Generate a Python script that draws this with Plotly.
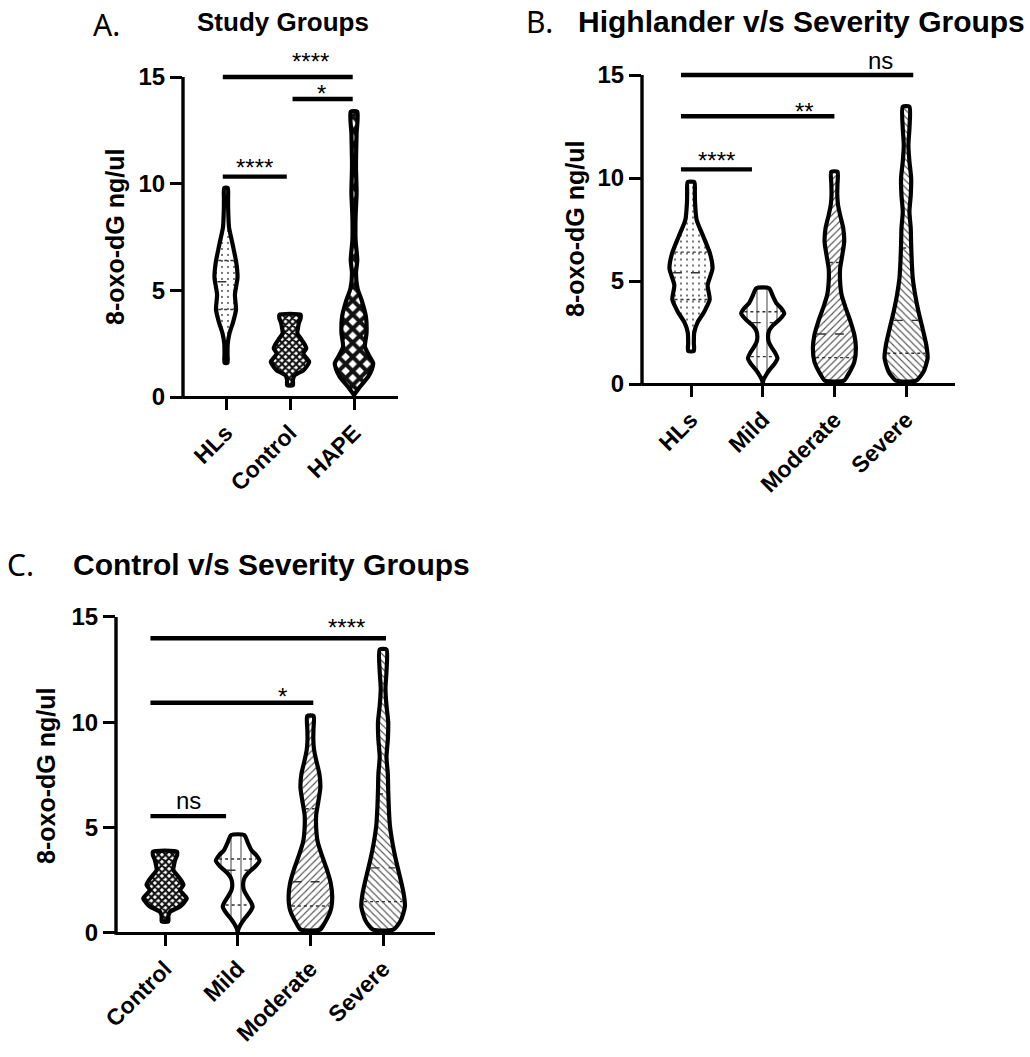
import numpy as np
import plotly.graph_objects as go

W, H = 1030, 1057

# violin outlines: value level and relative half-width
hls_y = [1.6, 2.0, 2.5, 3.0, 3.5, 4.1, 4.8, 5.6, 6.3, 7.15, 7.96, 8.8, 9.3, 9.8]
hls_w = [2.8, 2.8, 3.2, 6.6, 13.0, 18.5, 16.5, 21.3, 19.0, 12.3, 5.6, 4.0, 3.8, 3.3]

ctrl_y = [0.55, 0.8, 1.01, 1.25, 1.45, 1.65, 1.85, 2.04, 2.28, 2.5, 2.67, 2.99, 3.25, 3.46, 3.7, 3.86]
ctrl_w = [3.3, 3.3, 5.0, 15.0, 19.0, 21.6, 18.0, 15.0, 18.3, 16.0, 13.3, 8.3, 9.0, 10.0, 12.0, 12.0]

hape_y = [0.09, 0.48, 0.95, 1.3, 1.58, 1.95, 2.36, 2.99, 3.76, 4.55, 5.08, 5.8, 6.42, 7.36, 8.45,
          9.55, 10.8, 12.36, 13.37]
hape_w = [0.0, 6.0, 14.3, 18.0, 19.3, 15.0, 11.0, 12.6, 12.0, 7.6, 3.6, 2.0, 3.3, 1.6, 1.6,
          2.6, 2.0, 2.6, 3.3]

mild_y = [0.03, 0.2, 0.45, 0.7, 1.0, 1.25, 1.5, 1.8, 2.05, 2.3, 2.6, 2.86, 3.15, 3.43, 3.7,
          3.92, 4.24, 4.65]
mild_w = [0.0, 0.8, 3.5, 7.0, 12.0, 14.6, 12.5, 8.6, 6.0, 5.3, 6.5, 10.3, 17.0, 21.3, 18.0,
          13.6, 10.3, 6.3]

mod_y = [0.16, 0.44, 1.08, 1.73, 2.38, 3.02, 3.67, 4.32, 4.97, 5.6, 6.26, 6.9, 7.56, 8.2, 8.7,
         9.2, 9.7, 10.3]
mod_w = [10.0, 14.3, 21.0, 22.6, 21.0, 17.0, 12.0, 7.6, 6.0, 6.0, 8.3, 10.3, 9.3, 6.0, 3.8,
         3.0, 3.2, 3.3]

sev_y = [0.16, 0.6, 1.25, 1.89, 2.7, 3.51, 4.32, 5.13, 5.94, 6.75, 7.56, 8.36, 9.17, 10.0, 10.8,
         11.6, 12.4, 13.46]
sev_w = [10.0, 17.3, 21.3, 20.0, 16.3, 12.3, 9.0, 6.6, 5.6, 5.0, 4.6, 3.3, 4.6, 5.0, 3.3,
         2.3, 3.3, 3.3]

# quartiles (q1, median, q3) where they are visible
hls_q = [4.1, 5.4, 6.4]
mild_q = [1.33, 2.98, 3.51]
mod_q = [1.28, 2.43, 5.9]
sev_q = [1.49, 3.09, 6.6]

panel_a_groups = ["HLs", "Control", "HAPE"]
panel_b_groups = ["HLs", "Mild", "Moderate", "Severe"]
panel_c_groups = ["Control", "Mild", "Moderate", "Severe"]

panel_a_signif = ["****", "*", "****"]
panel_b_signif = ["****", "**", "ns"]
panel_c_signif = ["ns", "*", "****"]

y_ticks = [0, 5, 10, 15]

profiles = {
    "HLs": (hls_y, hls_w, hls_q),
    "Control": (ctrl_y, ctrl_w, None),
    "HAPE": (hape_y, hape_w, None),
    "Mild": (mild_y, mild_w, mild_q),
    "Moderate": (mod_y, mod_w, mod_q),
    "Severe": (sev_y, sev_w, sev_q),
}

patterns = {
    "HLs": dict(shape=".", size=6, solidity=0.1, fgcolor="#555"),
    "Control": dict(shape="x", size=5, solidity=0.65, fgcolor="#111"),
    "HAPE": dict(shape="x", size=10, solidity=0.65, fgcolor="#111"),
    "Mild": dict(shape="|", size=10, solidity=0.1, fgcolor="#444"),
    "Moderate": dict(shape="/", size=5, solidity=0.22, fgcolor="#555"),
    "Severe": dict(shape="\\", size=5, solidity=0.22, fgcolor="#555"),
}

# pixel geometry of each panel; bars are (x0, x1, level, text x, text lift in px)
panels = [
    dict(groups=panel_a_groups, signif=panel_a_signif, left=183, right=398, y0=397, y15=77,
         cat0=226, step=64, width={"HLs": 0.18},
         bars=[(-0.05, 0.95, 10.33, 0.44, 15), (1.04, 1.98, 13.97, 1.49, 11),
               (-0.05, 1.98, 15.0, 1.32, 22)],
         ytitle=(115, 237)),
    dict(groups=panel_b_groups, signif=panel_b_signif, left=642, right=955, y0=384, y15=75,
         cat0=691, step=71.7, width={},
         bars=[(-0.14, 0.85, 10.42, 0.35, 15), (-0.14, 2.0, 13.0, 1.58, 11),
               (-0.14, 3.1, 15.0, 2.64, 12)],
         ytitle=(575, 229)),
    dict(groups=panel_c_groups, signif=panel_c_signif, left=116, right=435, y0=933, y15=617,
         cat0=165, step=72.7, width={},
         bars=[(-0.2, 0.84, 5.55, 0.33, 14), (-0.2, 2.04, 10.93, 1.62, 12),
               (-0.2, 3.04, 13.99, 2.5, 17)],
         ytitle=(46, 776)),
]

FONT = "Liberation Sans, Arial, sans-serif"
Y_LO, Y_HI = -0.6, 15.8

fig = go.Figure()
annotations = []
shapes = []
layout_axes = {}

for k, p in enumerate(panels):
    sfx = "" if k == 0 else str(k + 1)
    xa, ya = "x" + sfx, "y" + sfx
    ppu = (p["y0"] - p["y15"]) / 15.0
    px_bottom = p["y0"] - Y_LO * ppu
    px_top = p["y15"] - (Y_HI - 15) * ppu

    for i, g in enumerate(p["groups"]):
        ys, ws, q = profiles[g]
        ys = np.array(ys)
        ws = np.array(ws) / max(ws) * p["width"].get(g, 0.30)
        xs = np.concatenate([i + ws, (i - ws)[::-1], [i + ws[0]]])
        yy = np.concatenate([ys, ys[::-1], [ys[0]]])
        fig.add_trace(go.Scatter(
            x=xs, y=yy, mode="lines", fill="toself", fillcolor="white",
            fillpattern=dict(bgcolor="white", fillmode="replace", **patterns[g]),
            line=dict(color="black", width=4.2, shape="spline", smoothing=0.6),
            xaxis=xa, yaxis=ya, hoverinfo="skip", showlegend=False,
        ))
        if q is not None:
            for val, dash in zip(q, ["dot", "dash", "dot"]):
                hw = np.interp(val, ys, ws) - 2.2 / p["step"]
                fig.add_trace(go.Scatter(
                    x=[i - hw, i + hw], y=[val, val], mode="lines",
                    line=dict(color="#333", width=1.4, dash=dash),
                    xaxis=xa, yaxis=ya, hoverinfo="skip", showlegend=False,
                ))

    for (x0, x1, lvl, tx, lift), lab in zip(p["bars"], p["signif"]):
        fig.add_trace(go.Scatter(
            x=[x0, x1], y=[lvl, lvl], mode="lines", line=dict(color="black", width=4.4),
            xaxis=xa, yaxis=ya, hoverinfo="skip", showlegend=False,
        ))
        # asterisks sit high in the line box, "ns" sits low
        annotations.append(dict(
            x=tx, y=lvl, xref=xa, yref=ya, text=lab, showarrow=False,
            yanchor="middle", yshift=(lift + 2 if lab == "ns" else lift - 6), borderpad=0,
            font=dict(family=FONT, size=24, color="black"),
        ))

    layout_axes["xaxis" + sfx] = dict(
        domain=[p["left"] / W, p["right"] / W],
        range=[(p["left"] - p["cat0"]) / p["step"], (p["right"] - p["cat0"]) / p["step"]],
        anchor="free", position=1 - p["y0"] / H, automargin=False,
        tickvals=list(range(len(p["groups"]))), ticktext=p["groups"],
        tickangle=-45, ticks="outside", ticklen=11, tickwidth=3.2, tickcolor="black",
        showline=True, linewidth=3.4, linecolor="black", showgrid=False, zeroline=False,
        tickfont=dict(family=FONT, size=23, color="black", weight="bold"),
        fixedrange=True,
    )
    layout_axes["yaxis" + sfx] = dict(
        domain=[1 - px_bottom / H, 1 - px_top / H], range=[Y_LO, Y_HI],
        anchor=xa, tickvals=y_ticks, ticks="outside", ticklen=12, tickwidth=3.2,
        tickcolor="black", showline=False, showgrid=False, zeroline=False, automargin=False,
        tickfont=dict(family=FONT, size=24, color="black", weight="bold"),
        fixedrange=True,
    )
    # y axis line only runs from 0 to 15
    shapes.append(dict(
        type="line", xref="paper", yref="paper",
        x0=p["left"] / W, x1=p["left"] / W, y0=1 - (p["y0"] + 1.7) / H, y1=1 - p["y15"] / H,
        line=dict(color="black", width=3.4),
    ))
    annotations.append(dict(
        x=p["ytitle"][0] / W, y=1 - p["ytitle"][1] / H, xref="paper", yref="paper",
        text="8-oxo-dG ng/ul", textangle=-90, showarrow=False,
        xanchor="center", yanchor="middle",
        font=dict(family=FONT, size=25, color="black", weight="bold"),
    ))

titles = [
    ("A.", 91, 25, "left", "Noto Sans", 30, "normal"),
    ("Study Groups", 283, 22, "center", FONT, 26, "bold"),
    ("B.", 524, 22, "left", "Noto Sans", 30, "normal"),
    ("Highlander v/s Severity Groups", 576, 22, "left", FONT, 30, "bold"),
    ("C.", 5, 564, "left", "Noto Sans", 30, "normal"),
    ("Control v/s Severity Groups", 71, 564, "left", FONT, 30, "bold"),
]
for text, px, py, anchor, fam, size, weight in titles:
    annotations.append(dict(
        x=px / W, y=1 - py / H, xref="paper", yref="paper", text=text, showarrow=False,
        xanchor=anchor, yanchor="middle",
        font=dict(family=fam, size=size, color="black", weight=weight),
    ))

fig.update_layout(
    width=W, height=H, autosize=False,
    margin=dict(l=0, r=0, t=0, b=0),
    paper_bgcolor="white", plot_bgcolor="rgba(0,0,0,0)",
    annotations=annotations, shapes=shapes,
    **layout_axes,
)

fig.write_html("out.html", config={"displayModeBar": False},
               post_script="document.body.style.margin='0';")
